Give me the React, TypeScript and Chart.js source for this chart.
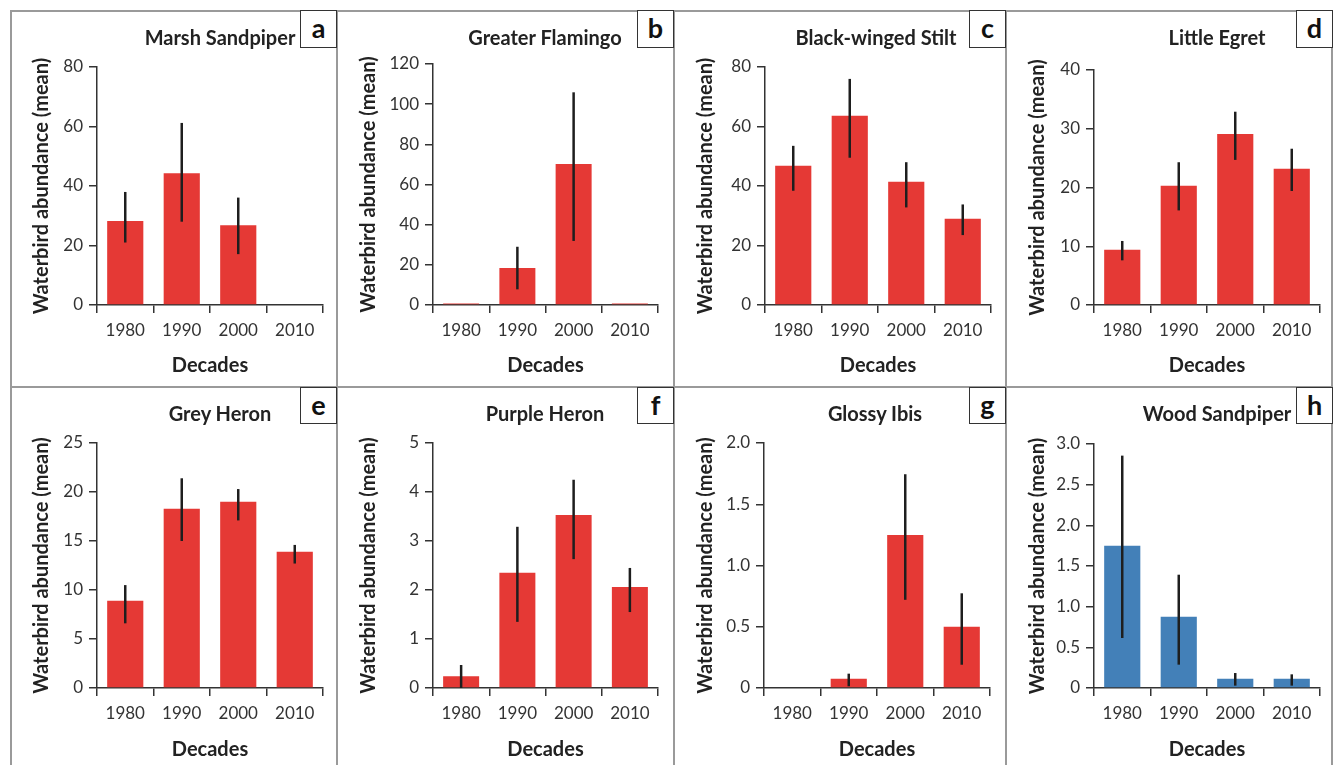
import React, { useEffect, useRef } from "react";
import { Chart, registerables } from "chart.js";

Chart.register(...registerables);

// ---------- data ----------
const decades = ["1980", "1990", "2000", "2010"];

const marshSandpiperMean = [28.2, 44.3, 26.8, 0];
const marshSandpiperLow = [21.0, 28.0, 17.1, null];
const marshSandpiperHigh = [38.0, 61.2, 36.1, null];

const greaterFlamingoMean = [0.8, 18.4, 70.2, 0.8];
const greaterFlamingoLow = [null, 7.8, 31.9, null];
const greaterFlamingoHigh = [null, 29.0, 105.9, null];

const blackWingedStiltMean = [46.8, 63.6, 41.4, 29.0];
const blackWingedStiltLow = [38.4, 49.5, 32.8, 23.5];
const blackWingedStiltHigh = [53.5, 76.0, 48.0, 33.8];

const littleEgretMean = [9.4, 20.3, 29.1, 23.2];
const littleEgretLow = [7.6, 16.1, 24.7, 19.4];
const littleEgretHigh = [10.9, 24.3, 32.9, 26.6];

const greyHeronMean = [8.9, 18.3, 19.0, 13.9];
const greyHeronLow = [6.6, 15.0, 17.1, 12.7];
const greyHeronHigh = [10.5, 21.4, 20.3, 14.6];

const purpleHeronMean = [0.24, 2.35, 3.53, 2.06];
const purpleHeronLow = [0, 1.35, 2.63, 1.55];
const purpleHeronHigh = [0.47, 3.29, 4.25, 2.45];

const glossyIbisMean = [0, 0.076, 1.25, 0.5];
const glossyIbisLow = [null, 0.014, 0.72, 0.19];
const glossyIbisHigh = [null, 0.117, 1.745, 0.773];

const woodSandpiperMean = [1.75, 0.877, 0.115, 0.115];
const woodSandpiperLow = [0.615, 0.287, 0.029, 0.029];
const woodSandpiperHigh = [2.857, 1.393, 0.184, 0.168];

const yTitle = "Waterbird abundance (mean)";
const xTitle = "Decades";

// ---------- styles ----------
const FONT = "Lato, 'Open Sans', sans-serif";
const RED = "#e53935";
const BLUE = "#4380b8";
const AXIS = "#333333";
const FRAME = "#9a9a9a";

const cols = [
  { left: 10, right: 337 },
  { left: 337, right: 674 },
  { left: 674, right: 1006 },
  { left: 1006, right: 1333 },
];
const rows = [
  { top: 10, bottom: 387 },
  { top: 387, bottom: 765 },
];

type Panel = {
  name: string;
  letter: string;
  col: number;
  row: number;
  mean: number[];
  low: (number | null)[];
  high: (number | null)[];
  max: number;
  step: number;
  decimals: number;
  color: string;
  plot: { left: number; right: number; top: number; bottom: number };
  titleX: number;
};

const panels: Panel[] = [
  { name: "Marsh Sandpiper", letter: "a", col: 0, row: 0, mean: marshSandpiperMean, low: marshSandpiperLow, high: marshSandpiperHigh, max: 80, step: 20, decimals: 0, color: RED, plot: { left: 97, right: 323, top: 67, bottom: 305 }, titleX: 220 },
  { name: "Greater Flamingo", letter: "b", col: 1, row: 0, mean: greaterFlamingoMean, low: greaterFlamingoLow, high: greaterFlamingoHigh, max: 120, step: 20, decimals: 0, color: RED, plot: { left: 433, right: 658, top: 64, bottom: 305 }, titleX: 545 },
  { name: "Black-winged Stilt", letter: "c", col: 2, row: 0, mean: blackWingedStiltMean, low: blackWingedStiltLow, high: blackWingedStiltHigh, max: 80, step: 20, decimals: 0, color: RED, plot: { left: 765, right: 991, top: 67, bottom: 305 }, titleX: 876 },
  { name: "Little Egret", letter: "d", col: 3, row: 0, mean: littleEgretMean, low: littleEgretLow, high: littleEgretHigh, max: 40, step: 10, decimals: 0, color: RED, plot: { left: 1094, right: 1320, top: 70, bottom: 305 }, titleX: 1217 },
  { name: "Grey Heron", letter: "e", col: 0, row: 1, mean: greyHeronMean, low: greyHeronLow, high: greyHeronHigh, max: 25, step: 5, decimals: 0, color: RED, plot: { left: 97, right: 323, top: 443, bottom: 688 }, titleX: 220 },
  { name: "Purple Heron", letter: "f", col: 1, row: 1, mean: purpleHeronMean, low: purpleHeronLow, high: purpleHeronHigh, max: 5, step: 1, decimals: 0, color: RED, plot: { left: 433, right: 658, top: 443, bottom: 688 }, titleX: 545 },
  { name: "Glossy Ibis", letter: "g", col: 2, row: 1, mean: glossyIbisMean, low: glossyIbisLow, high: glossyIbisHigh, max: 2, step: 0.5, decimals: 1, color: RED, plot: { left: 764, right: 990, top: 443, bottom: 688 }, titleX: 875 },
  { name: "Wood Sandpiper", letter: "h", col: 3, row: 1, mean: woodSandpiperMean, low: woodSandpiperLow, high: woodSandpiperHigh, max: 3, step: 0.5, decimals: 1, color: BLUE, plot: { left: 1094, right: 1320, top: 444, bottom: 688 }, titleX: 1217 },
];

const errorBarPlugin = {
  id: "errorBars",
  afterDatasetsDraw(chart: any, _args: any, opts: any) {
    const { ctx } = chart;
    const y = chart.scales.y;
    const meta = chart.getDatasetMeta(0);
    ctx.save();
    ctx.strokeStyle = opts.color || "#222";
    ctx.lineWidth = opts.width || 2.5;
    meta.data.forEach((bar: any, i: number) => {
      const lo = opts.lows[i];
      const hi = opts.highs[i];
      if (lo == null || hi == null) return;
      ctx.beginPath();
      ctx.moveTo(bar.x, y.getPixelForValue(lo));
      ctx.lineTo(bar.x, y.getPixelForValue(hi));
      ctx.stroke();
    });
    ctx.restore();
  },
};

function PanelChart({ p }: { p: Panel }) {
  const ref = useRef<HTMLCanvasElement>(null);
  const cell = { ...cols[p.col], ...rows[p.row] };
  const w = cell.right - cell.left;
  const h = cell.bottom - cell.top;
  // desired centres of axis titles relative to the cell edges
  const xTitleCenterFromBottom = p.row === 0 ? 21 : 15;
  const yTitleCenterFromLeft = 32;

  useEffect(() => {
    if (!ref.current) return;
    const titleFontSize = 20;
    const lh = titleFontSize * 1.2;
    const chart = new Chart(ref.current, {
      type: "bar",
      data: {
        labels: decades,
        datasets: [
          {
            data: p.mean,
            backgroundColor: p.color,
            borderWidth: 0,
            categoryPercentage: 1,
            barPercentage: 0.64,
          },
        ],
      },
      options: {
        animation: false,
        responsive: false,
        maintainAspectRatio: false,
        events: [],
        layout: {
          padding: {
            left: 0,
            bottom: 0,
            right: cell.right - p.plot.right,
            top: p.plot.top - cell.top,
          },
        },
        plugins: {
          legend: { display: false },
          tooltip: { enabled: false },
          title: { display: false },
          errorBars: { lows: p.low, highs: p.high, color: "#1e1e1e", width: 2.5 },
        } as any,
        scales: {
          x: {
            offset: true,
            grid: {
              offset: true,
              drawOnChartArea: false,
              drawTicks: true,
              tickLength: 8,
              color: AXIS,
              lineWidth: 1.5,
            },
            border: { display: true, color: AXIS, width: 1.5 },
            ticks: {
              font: { family: FONT, size: 17 },
              color: "#333",
              padding: 7,
              maxRotation: 0,
            },
            title: {
              display: true,
              text: xTitle,
              font: { family: FONT, size: titleFontSize, weight: "bold" },
              color: "#222",
              padding: { top: 0, bottom: xTitleCenterFromBottom - lh / 2 },
            },
            afterFit: (s: any) => {
              s.height = cell.bottom - p.plot.bottom;
            },
          },
          y: {
            min: 0,
            max: p.max,
            grid: {
              drawOnChartArea: false,
              drawTicks: true,
              tickLength: 8,
              color: AXIS,
              lineWidth: 1.5,
            },
            border: { display: true, color: AXIS, width: 1.5 },
            ticks: {
              stepSize: p.step,
              font: { family: FONT, size: 17 },
              color: "#333",
              padding: 6,
              callback: (v: any) => (Number(v) === 0 ? "0" : Number(v).toFixed(p.decimals)),
            },
            title: {
              display: true,
              text: yTitle,
              font: { family: FONT, size: titleFontSize, weight: "bold" },
              color: "#222",
              padding: { top: yTitleCenterFromLeft - lh / 2, bottom: 0 },
            },
            afterFit: (s: any) => {
              s.width = p.plot.left - cell.left;
            },
          },
        },
      },
      plugins: [errorBarPlugin],
    });
    return () => chart.destroy();
  }, []);

  return (
    <canvas
      ref={ref}
      width={w}
      height={h}
      style={{ position: "absolute", left: cell.left, top: cell.top, width: w, height: h }}
    />
  );
}

export default function App() {
  const line = (style: React.CSSProperties) => (
    <div style={{ position: "absolute", background: FRAME, ...style }} />
  );
  return (
    <div
      style={{
        position: "fixed",
        left: 0,
        top: 0,
        width: 1333,
        height: 765,
        background: "#fff",
        overflow: "hidden",
        fontFamily: FONT,
      }}
    >
      {panels.map((p) => (
        <PanelChart key={p.letter} p={p} />
      ))}
      {/* frame lines */}
      {line({ left: 10, top: 10, width: 1323, height: 2 })}
      {line({ left: 10, top: 386, width: 1323, height: 2 })}
      {line({ left: 10, top: 10, width: 2, height: 755 })}
      {line({ left: 336, top: 10, width: 2, height: 755 })}
      {line({ left: 673, top: 10, width: 2, height: 755 })}
      {line({ left: 1005, top: 10, width: 2, height: 755 })}
      {line({ left: 1331, top: 10, width: 2, height: 755 })}
      {panels.map((p) => {
        const cell = { ...cols[p.col], ...rows[p.row] };
        return (
          <React.Fragment key={"t" + p.letter}>
            <div
              style={{
                position: "absolute",
                left: p.titleX,
                top: cell.top + (p.row === 0 ? 27 : 26),
                transform: "translate(-50%, -50%)",
                fontWeight: 700,
                fontSize: 20,
                color: "#222",
                whiteSpace: "nowrap",
                lineHeight: 1,
              }}
            >
              {p.name}
            </div>
            <div
              style={{
                position: "absolute",
                left: cell.right - 37,
                top: cell.top,
                width: 37,
                height: p.row === 0 ? 38 : 37,
                boxSizing: "border-box",
                border: "1.5px solid #333",
                background: "#fff",
                display: "flex",
                alignItems: "center",
                justifyContent: "center",
                fontWeight: 700,
                fontSize: 27,
                color: "#111",
                lineHeight: 1,
                paddingBottom: 3,
              }}
            >
              {p.letter}
            </div>
          </React.Fragment>
        );
      })}
    </div>
  );
}
